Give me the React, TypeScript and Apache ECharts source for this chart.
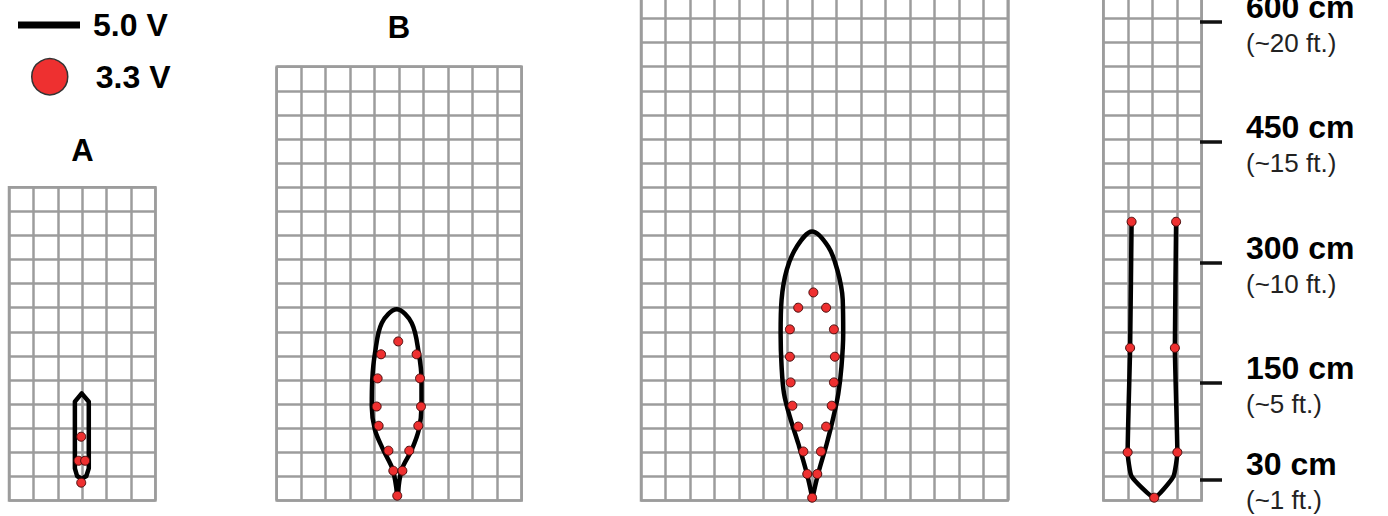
import React, { useEffect, useRef } from "react";
import * as echarts from "echarts";

// ---------- data (x in grid cells, y in cm) ----------
const panelNames = ["A", "B", "C", "D"];

const outlineA = [
  [2.98, 26.8], [2.79, 30.5], [2.7, 40], [2.7, 80], [2.7, 123], [2.98, 133.4],
  [3.27, 123], [3.27, 80], [3.27, 40], [3.17, 30.5], [2.98, 26.8],
];
const dotsA = [[2.96, 79.4], [2.85, 49.5], [3.12, 49.5], [2.96, 22.2]];

const outlineB = [
  [4.92, 6], [4.74, 38], [4.35, 63], [4.01, 88], [3.88, 117], [3.9, 150], [4.01, 183],
  [4.29, 221], [4.9, 238], [5.51, 221], [5.8, 183], [5.91, 150], [5.91, 117],
  [5.8, 88], [5.51, 63], [5.1, 38], [4.94, 6],
];
const dotsB = [
  [4.96, 198], [4.26, 182], [5.71, 182], [4.12, 152], [5.85, 152], [4.08, 117],
  [5.89, 117], [4.16, 93], [5.78, 93], [4.56, 62], [5.41, 62], [4.76, 37],
  [5.13, 37], [4.92, 6],
];

const outlineC = [
  [7.0, 4], [6.78, 34], [6.43, 71], [6.09, 104], [5.85, 133], [5.75, 167], [5.71, 208],
  [5.75, 250], [5.96, 287], [6.37, 316], [7.0, 335], [7.66, 316], [8.03, 287],
  [8.25, 250], [8.27, 208], [8.2, 167], [8.07, 133], [7.87, 104], [7.6, 71],
  [7.25, 34], [7.02, 4],
];
const dotsC = [
  [7.05, 259], [6.43, 240], [7.57, 240], [6.09, 213], [7.89, 213], [6.09, 179],
  [7.93, 179], [6.12, 147], [7.89, 147], [6.19, 118], [7.8, 118], [6.43, 92],
  [7.57, 92], [6.64, 61], [7.36, 61], [6.8, 33], [7.21, 33], [7.0, 3.5],
];

const outlineD = [
  [1.15, 347], [1.09, 190], [0.99, 60], [1.15, 30], [2.07, 3.5], [2.85, 30],
  [3.01, 60], [2.91, 190], [2.96, 347],
];
const dotsD = [
  [1.15, 347], [2.96, 347], [1.09, 190], [2.91, 190], [0.99, 60], [3.01, 60], [2.07, 3.5],
];

const outlines = [outlineA, outlineB, outlineC, outlineD];
const dots = [dotsA, dotsB, dotsC, dotsD];

const heightTicksCm = [30, 150, 300, 450, 600];
const heightTicksFt = ["~1", "~5", "~10", "~15", "~20"];

const legendLine = "5.0 V";
const legendDot = "3.3 V";

// ---------- layout & style ----------
const FONT = '"Liberation Sans", Arial, Helvetica, sans-serif';
const GRID_COLOR = "#9c9c9c";
const GRID_W = 2.5;
const CELL_H = 24.1;
const CM_PER_ROW = 30;
const BASE_Y = 500.5;
const panels = [
  { cols: 6, rows: 13, left: 9, cellW: 24.4, smooth: false },
  { cols: 10, rows: 18, left: 276.7, cellW: 24.5, smooth: 0.35 },
  { cols: 15, rows: 21, left: 641, cellW: 24.45, smooth: 0.35 },
  { cols: 4, rows: 21, left: 1103.3, cellW: 24.6, smooth: 0.15 },
];
const titlePos = [
  { x: 82.5, y: 150 },
  { x: 399, y: 27 },
];

function buildOption() {
  const grids: any[] = [];
  const xAxes: any[] = [];
  const yAxes: any[] = [];
  const series: any[] = [];

  panels.forEach((p, i) => {
    grids.push({
      left: p.left,
      top: BASE_Y - p.rows * CELL_H,
      width: p.cols * p.cellW,
      height: p.rows * CELL_H,
      show: true,
      borderColor: GRID_COLOR,
      borderWidth: GRID_W,
      backgroundColor: "transparent",
      containLabel: false,
      outerBoundsMode: "none",
    });
    xAxes.push({
      gridIndex: i,
      type: "value",
      min: 0,
      max: p.cols,
      interval: 1,
      axisLine: { show: false },
      axisTick: { show: false },
      axisLabel: { show: false },
      splitLine: { show: true, lineStyle: { color: GRID_COLOR, width: GRID_W } },
    });
    yAxes.push({
      gridIndex: i,
      type: "value",
      min: 0,
      max: p.rows * CM_PER_ROW,
      interval: CM_PER_ROW,
      axisLine: { show: false },
      axisTick: { show: false },
      axisLabel: { show: false },
      splitLine: { show: true, lineStyle: { color: GRID_COLOR, width: GRID_W } },
    });
    series.push({
      type: "line",
      name: legendLine,
      xAxisIndex: i,
      yAxisIndex: i,
      data: outlines[i],
      smooth: p.smooth,
      symbol: "none",
      clip: false,
      lineStyle: { color: "#000", width: 4.5, join: "round", cap: "round" },
      itemStyle: { color: "#000" },
      z: 3,
    });
    series.push({
      type: "scatter",
      name: legendDot,
      xAxisIndex: i,
      yAxisIndex: i,
      data: dots[i],
      symbolSize: 9,
      clip: false,
      itemStyle: { color: "#ee3030", borderColor: "#4a0a0a", borderWidth: 1, opacity: 1 },
      z: 4,
    });
  });

  // height scale on the right
  grids.push({
    left: 1200, width: 17, top: -2.6, height: 21 * CELL_H, show: false,
    containLabel: false, outerBoundsMode: "none",
  });
  xAxes.push({ gridIndex: 4, type: "value", show: false, min: 0, max: 1 });
  yAxes.push({
    gridIndex: 4,
    type: "value",
    position: "right",
    min: 0,
    max: 21 * CM_PER_ROW,
    interval: CM_PER_ROW,
    axisLine: { show: false },
    splitLine: { show: false },
    axisTick: {
      show: true,
      length: 22,
      customValues: heightTicksCm,
      lineStyle: { color: "#111", width: 3.5 },
    },
    axisLabel: {
      show: true,
      customValues: heightTicksCm,
      margin: 29,
      formatter: (v: number) => {
        const i = heightTicksCm.indexOf(v);
        return `{a|${v} cm}\n{b|(${heightTicksFt[i]} ft.)}`;
      },
      rich: {
        a: { fontSize: 32, fontWeight: "bold", fontFamily: FONT, color: "#000", lineHeight: 42 },
        b: { fontSize: 26, fontFamily: FONT, color: "#222", lineHeight: 30 },
      },
    },
  });

  const titleText = (name: string, pos: { x: number; y: number }) => ({
    type: "text",
    x: pos.x,
    y: pos.y,
    style: {
      text: name,
      fontSize: 31,
      fontWeight: "bold",
      fontFamily: FONT,
      fill: "#000",
      align: "center",
      verticalAlign: "middle",
    },
  });

  return {
    animation: false,
    backgroundColor: "#fff",
    textStyle: { fontFamily: FONT },
    grid: grids,
    xAxis: xAxes,
    yAxis: yAxes,
    legend: [
      {
        data: [legendLine],
        left: 18,
        top: 9,
        padding: 0,
        icon: "rect",
        itemWidth: 62,
        itemHeight: 7,
        selectedMode: false,
        textStyle: {
          fontSize: 32, fontWeight: "bold", fontFamily: FONT, color: "#000",
          lineHeight: 30, padding: [0, 0, 0, 8],
        },
      },
      {
        data: [legendDot],
        left: 31,
        top: 58,
        padding: 0,
        icon: "circle",
        itemWidth: 36,
        itemHeight: 36,
        selectedMode: false,
        itemStyle: { borderColor: "#333", borderWidth: 1.5 },
        textStyle: {
          fontSize: 32, fontWeight: "bold", fontFamily: FONT, color: "#000",
          lineHeight: 30, padding: [0, 0, 0, 23],
        },
      },
    ],
    graphic: [titleText(panelNames[0], titlePos[0]), titleText(panelNames[1], titlePos[1])],
    series,
  };
}

export default function App() {
  const ref = useRef<HTMLDivElement>(null);
  useEffect(() => {
    document.body.style.margin = "0";
    if (!ref.current) return;
    const chart = echarts.init(ref.current, null, { renderer: "svg" });
    chart.setOption(buildOption() as any);
    return () => chart.dispose();
  }, []);
  return <div ref={ref} style={{ width: 1388, height: 516 }} />;
}
